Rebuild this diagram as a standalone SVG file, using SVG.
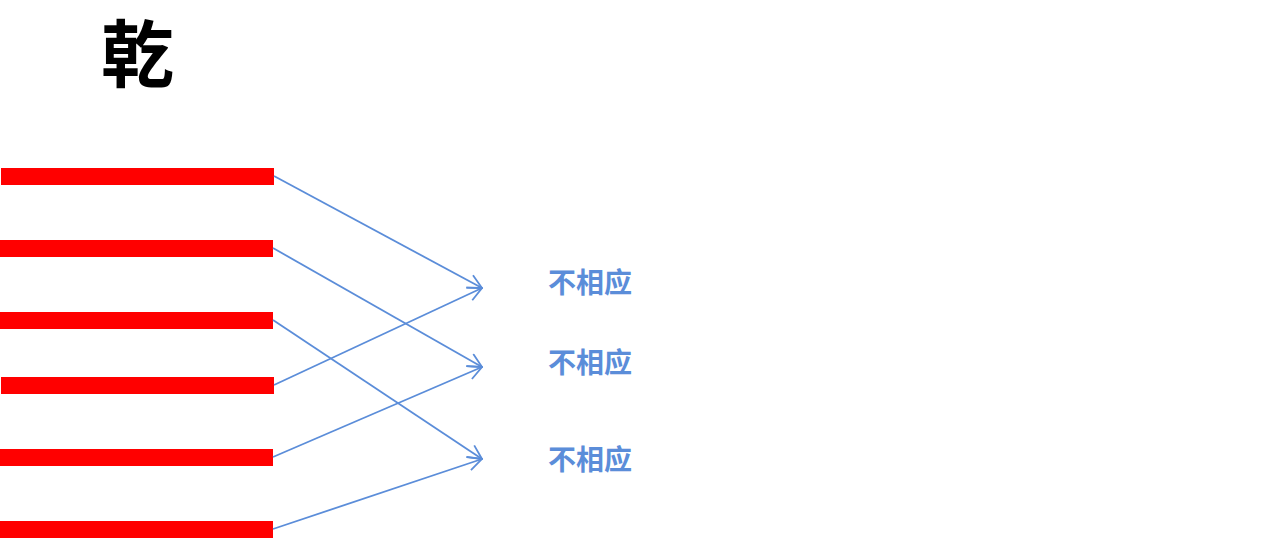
<svg xmlns="http://www.w3.org/2000/svg" width="1286" height="551" viewBox="0 0 1286 551">
<style>
.bar{fill:#ff0000}
.lbl{font-family:"Noto Sans CJK SC","Noto Sans CJK JP",sans-serif;font-weight:bold;font-size:28px;fill:#5b8dd9}
.ttl{font-family:"Noto Sans CJK SC","Noto Sans CJK JP",sans-serif;font-weight:bold;font-size:73px;fill:#000}
.con{stroke:#5b8dd9;stroke-width:1.8;fill:none;marker-end:url(#arr)}
</style>
<defs>
<marker id="arr" viewBox="0 0 16 16" refX="15" refY="8" markerWidth="16" markerHeight="16" markerUnits="userSpaceOnUse" orient="auto">
<path d="M1,1 L15,8 L1,15" fill="none" stroke="#5b8dd9" stroke-width="1.8"/>
</marker>
</defs>
<rect width="1286" height="551" fill="#fff"/>
<g id="title"><text class="ttl" x="101" y="81">乾</text></g>
<g id="yao1"><rect class="bar" x="1" y="168" width="273" height="17"/></g>
<g id="yao2"><rect class="bar" x="0" y="240" width="273" height="17"/></g>
<g id="yao3"><rect class="bar" x="0" y="312" width="273" height="17"/></g>
<g id="yao4"><rect class="bar" x="1" y="377" width="273" height="17"/></g>
<g id="yao5"><rect class="bar" x="0" y="449" width="273" height="17"/></g>
<g id="yao6"><rect class="bar" x="0" y="521" width="273" height="17"/></g>
<g id="label1"><text class="lbl" x="548" y="293">不相应</text></g>
<g id="label2"><text class="lbl" x="548" y="373">不相应</text></g>
<g id="label3"><text class="lbl" x="548" y="470">不相应</text></g>
<g id="connectors">
<line class="con" x1="274" y1="176" x2="482" y2="288"/>
<line class="con" x1="273" y1="248" x2="482" y2="367"/>
<line class="con" x1="273" y1="320" x2="482" y2="459"/>
<line class="con" x1="274" y1="385" x2="482" y2="288"/>
<line class="con" x1="273" y1="457" x2="482" y2="367"/>
<line class="con" x1="273" y1="529" x2="482" y2="459"/>
</g>
</svg>
